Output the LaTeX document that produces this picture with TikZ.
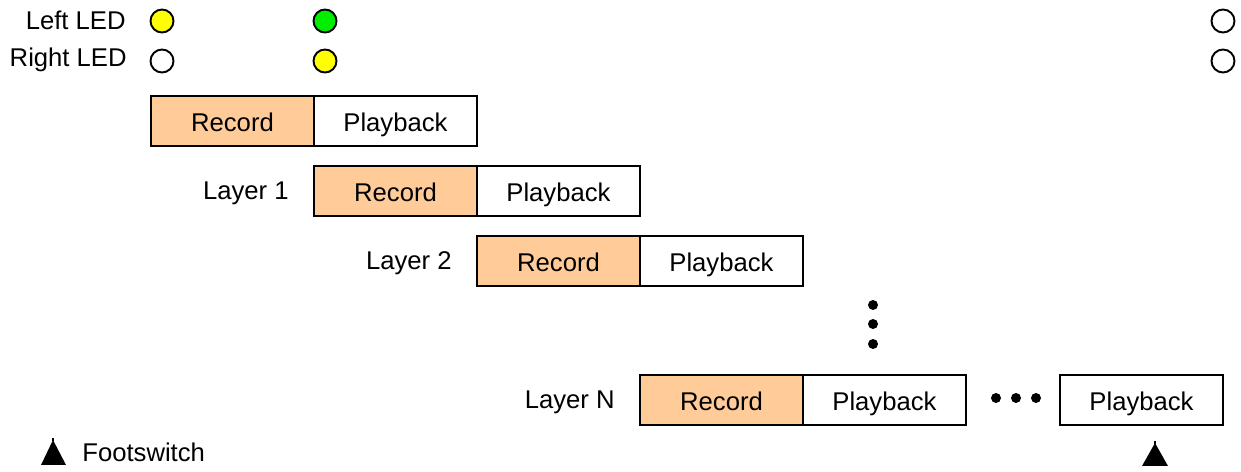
\documentclass[tikz,border=0pt]{standalone}
\usepackage{fontspec}
\setmainfont{Liberation Sans}
\usetikzlibrary{positioning}

\definecolor{recfill}{HTML}{FFCC99}
\definecolor{ledyellow}{HTML}{FFFF00}
\definecolor{ledgreen}{HTML}{00EE00}

\tikzset{
	phase/.style={draw, line width=1.1pt, minimum width=3.26cm, minimum height=1cm,
			inner sep=0, outer sep=0, text height=0.5cm, text depth=0.06cm,
			font=\fontsize{14.6}{16}\selectfont},
	rec/.style={phase, fill=recfill},
	play/.style={phase, fill=white},
	led/.style={circle, draw, line width=1.1pt, minimum size=0.46cm, inner sep=0},
	lbl/.style={inner sep=0, font=\fontsize{14.6}{16}\selectfont},
	dot/.style={circle, fill, minimum size=0.2cm, inner sep=0},
}

\begin{document}
\begin{tikzpicture}[x=0.02cm, y=-0.02cm]
			\useasboundingbox (0,0) rectangle (1241,472);
			% LEDs
			\node[lbl, anchor=east] (leftlbl) at (126,20) {Left LED};
			\node[lbl, anchor=east] (rightlbl) at (127,60) {Right LED};
			\node[led, fill=ledyellow] (ledLa) at (162,21) {};
			\node[led, fill=white] (ledRa) at (162,61) {};
			\node[led, fill=ledgreen] (ledLb) at (325,21) {};
			\node[led, fill=ledyellow] (ledRb) at (325,61) {};
			\node[led, fill=white] (ledLc) at (1223,21) {};
			\node[led, fill=white] (ledRc) at (1223,61) {};
			% layers
			\node[rec, anchor=north west] (rec0) at (151,96) {Record};
			\node[play, right=0pt of rec0] (play0) {Playback};
			\node[rec, anchor=north west] (rec1) at (314,166) {Record};
			\node[play, right=0pt of rec1] (play1) {Playback};
			\node[lbl, left=0.5cm of rec1, yshift=-0.05cm] (lay1) {Layer 1};
			\node[rec, anchor=north west] (rec2) at (477,236) {Record};
			\node[play, right=0pt of rec2] (play2) {Playback};
			\node[lbl, left=0.5cm of rec2, yshift=-0.05cm] (lay2) {Layer 2};
			\node[dot] (vd1) at (873,305) {};
			\node[dot] (vd2) at (873,324) {};
			\node[dot] (vd3) at (873,344) {};
			\node[rec, anchor=north west] (recN) at (640,375) {Record};
			\node[play, right=0pt of recN] (playN) {Playback};
			\node[lbl, left=0.5cm of recN, yshift=-0.05cm] (layN) {Layer N};
			\node[dot] (hd1) at (996,398) {};
			\node[dot] (hd2) at (1016,398) {};
			\node[dot] (hd3) at (1036,398) {};
			\node[play, anchor=north west] (playlast) at (1060,375) {Playback};
			% footswitch
			\fill (53,440) -- (66,465) -- (41,465) -- cycle;
			\draw[line width=0.8pt] (53,441) -- (53,438.5);
			\node[lbl, anchor=west] (fswlbl) at (82,452) {Footswitch};
			\fill (1155,443) -- (1168,466) -- (1142,466) -- cycle;
			\draw[line width=0.8pt] (1155,444) -- (1155,441.5);
\end{tikzpicture}
\end{document}
